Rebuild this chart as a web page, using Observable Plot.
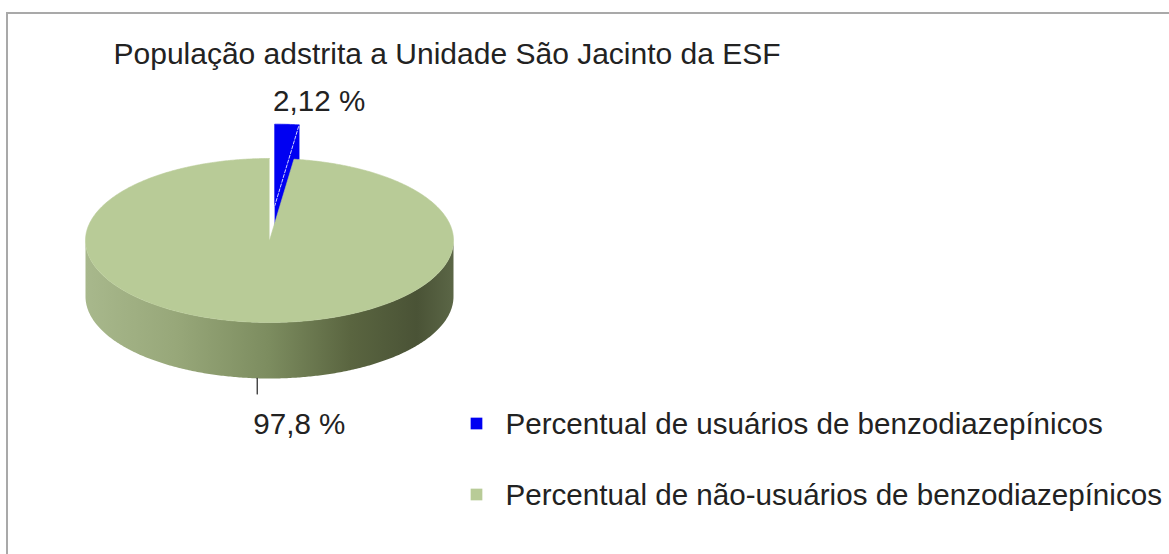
<!DOCTYPE html>
<html>
<head>
<meta charset="utf-8">
<script src="https://cdn.jsdelivr.net/npm/d3@7"></script>
<script src="https://cdn.jsdelivr.net/npm/@observablehq/plot@0.6"></script>
<style>
html, body { margin: 0; padding: 0; background: #fff; }
#wrap { position: relative; width: 1169px; height: 554px; overflow: hidden; background: #fff; }
#border { position: absolute; left: 6px; top: 12px; width: 1300px; height: 700px;
  border-left: 2px solid #a9a9a9; border-top: 2px solid #a9a9a9; }
#chart { position: absolute; left: 0; top: 0; }
</style>
</head>
<body>
<div id="wrap"><div id="border"></div><div id="chart"></div></div>
<script>
// ---- data ----
const title = "População adstrita a Unidade São Jacinto da ESF";
const categories = [
  "Percentual de usuários de benzodiazepínicos",
  "Percentual de não-usuários de benzodiazepínicos"
];
const values = [2.12, 97.8];
const valueLabels = ["2,12 %", "97,8 %"];
const colors = ["#0000f2", "#b8cb97"];

// ---- layout ----
const W = 1169, H = 554;
const cx = 269, cy = 240, rx = 184, ry = 82;
const depth = 56 / ry;      // wall height in y-units
const explode = 0.42;       // explode distance of first slice (radius units)
const font = "'Liberation Sans', Arial, Helvetica, sans-serif";
const textColor = "#222222";

const arcs = d3.pie().sort(null).value(d => d)(values);
const P = (a, r = 1) => ({x: r * Math.sin(a), y: -r * Math.cos(a)});
function arcPts(a0, a1) {
  const n = Math.max(2, Math.ceil(Math.abs(a1 - a0) / 0.01));
  return d3.range(n + 1).map(i => P(a0 + (a1 - a0) * i / n));
}
const shift = (pts, dx, dy) => pts.map(p => ({x: p.x + dx, y: p.y + dy}));

// slice 0 (exploded, behind)
const s0 = arcs[0], s1 = arcs[1];
const m0 = (s0.startAngle + s0.endAngle) / 2;
const off = P(m0, explode);
const c0 = {x: off.x, y: off.y};
const rim0 = shift([P(s0.endAngle)], off.x, off.y)[0];
const blueSide = [c0, rim0, {x: rim0.x, y: rim0.y + depth}, {x: c0.x, y: c0.y + depth}];
const blueTop = [c0, ...shift(arcPts(s0.startAngle, s0.endAngle), off.x, off.y)];
const blueEdge = [c0, rim0];

// slice 1 (main)
const frontTop = arcPts(Math.PI / 2, 3 * Math.PI / 2);
const greenWall = [...frontTop, ...shift(frontTop, 0, depth).reverse()];
const greenTop = [{x: 0, y: 0}, ...arcPts(s1.startAngle, s1.endAngle)];
const m1 = (s1.startAngle + s1.endAngle) / 2;
const lp = P(m1);
const leader = [{x: lp.x, y: lp.y + depth}, {x: lp.x, y: lp.y + depth + 0.19}];

const poly = (pts, fill, extra = {}) =>
  Plot.line(pts, {x: "x", y: "y", fill, stroke: fill, strokeWidth: 0.6, ...extra});

const legendY = [423, 494];
const legendText = [
  ...categories.map((c, i) => Plot.dot([c], {
    frameAnchor: "top-left", dx: 476, dy: legendY[i],
    symbol: "square", r: 6.6, fill: colors[i], stroke: "none"
  })),
  ...categories.map((c, i) => Plot.text([c], {
    text: d => d, frameAnchor: "top-left", dx: 505, dy: legendY[i] + 10.5,
    textAnchor: "start", lineAnchor: "bottom", fontSize: 29.6, fill: textColor
  }))
];

const svg = Plot.plot({
  width: W, height: H,
  marginTop: 0, marginRight: 0, marginBottom: 0, marginLeft: 0,
  style: {background: "transparent", fontFamily: font, overflow: "visible"},
  x: {domain: [-1, 1], range: [cx - rx, cx + rx], axis: null},
  y: {domain: [-1, 1], range: [cy - ry, cy + ry], axis: null},
  marks: [
    poly(blueSide, colors[0]),
    poly(blueTop, colors[0]),
    Plot.line(blueEdge, {x: "x", y: "y", stroke: "#ffffff", strokeWidth: 1, strokeDasharray: "3,2", strokeOpacity: 0.8}),
    poly(greenWall, "url(#wallGrad)", {stroke: "none"}),
    poly(greenTop, colors[1]),
    Plot.line(leader, {x: "x", y: "y", stroke: "#333", strokeWidth: 1.3}),
    Plot.text([valueLabels[0]], {
      x: () => rim0.x, y: () => Math.min(rim0.y, c0.y), text: d => d,
      dx: -26, dy: -14, textAnchor: "start", lineAnchor: "bottom", fontSize: 29.6, fill: textColor
    }),
    Plot.text([valueLabels[1]], {
      x: () => leader[1].x, y: () => leader[1].y, text: d => d,
      dx: -4, dy: 40, textAnchor: "start", lineAnchor: "bottom", fontSize: 29.6, fill: textColor
    }),
    Plot.text([title], {
      text: d => d, frameAnchor: "top-left", dx: 113, dy: 63,
      textAnchor: "start", lineAnchor: "bottom", fontSize: 30, fill: textColor
    }),
    ...legendText
  ]
});

d3.select(svg).insert("defs", ":first-child").html(`
  <linearGradient id="wallGrad" x1="0" y1="0" x2="1" y2="0">
    <stop offset="0" stop-color="#a8b88c"/>
    <stop offset="0.25" stop-color="#97a779"/>
    <stop offset="0.5" stop-color="#7c8c5f"/>
    <stop offset="0.72" stop-color="#5a6540"/>
    <stop offset="0.9" stop-color="#4a5336"/>
    <stop offset="1" stop-color="#5b6646"/>
  </linearGradient>`);

document.getElementById("chart").appendChild(svg);
</script>
</body>
</html>
